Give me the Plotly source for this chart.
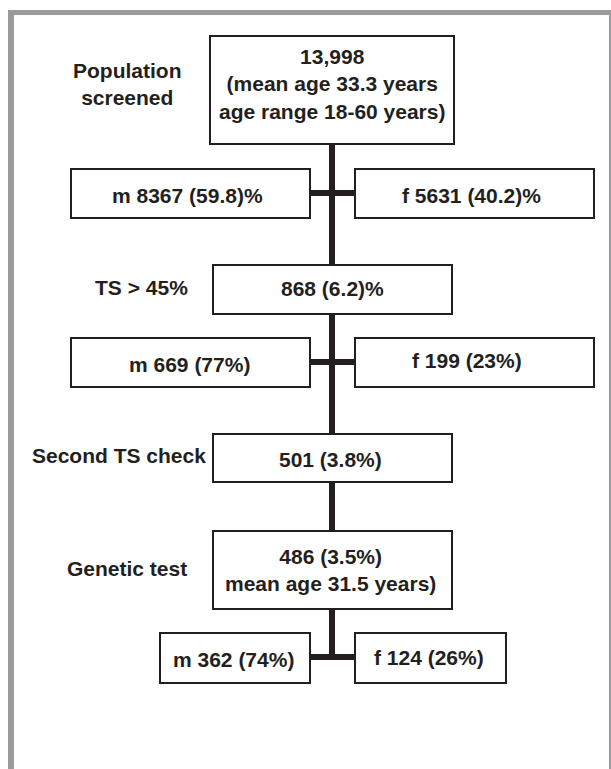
import plotly.graph_objects as go

# ---- data (text of the flow chart) ----
stage_labels = ["Population<br>screened", "TS > 45%", "Second TS check", "Genetic test"]
main_labels = [
    "13,998<br>(mean age 33.3 years<br>age range 18-60 years)",
    "868 (6.2)%",
    "501 (3.8%)",
    "486 (3.5%)<br>mean age 31.5 years)",
]
male_labels = ["m 8367 (59.8)%", "m 669 (77%)", "m 362 (74%)"]
female_labels = ["f 5631 (40.2)%", "f 199 (23%)", "f 124 (26%)"]

# ---- layout geometry (pixels) ----
W, H = 611, 769
main_boxes = [(210, 36, 454, 144), (213, 265, 452, 314), (213, 434, 452, 482), (213, 531, 452, 609)]
main_text_pos = [(332, 84), (332, 288), (330, 459), (330, 570)]
stage_pos = [(127, 84), (141, 287), (119, 455), (127, 568)]
male_boxes = [(71, 169, 310, 218), (71, 338, 310, 387), (160, 633, 310, 683)]
female_boxes = [(355, 169, 594, 218), (355, 338, 594, 387), (355, 633, 506, 683)]
male_text_pos = [(187, 195), (189, 364), (233, 659)]
female_text_pos = [(471, 195), (467, 360), (429, 657)]
connector_y = [193, 362, 657]
spine_x = 332

INK = "#231f20"
GREY = "#9a9b9d"
FONT = dict(family="Liberation Sans, Arial, sans-serif", size=21, color=INK)

shapes = []
# grey frame
shapes.append(dict(type="rect", x0=8, x1=14, y0=10, y1=H, fillcolor=GREY, line_width=0, layer="below"))
shapes.append(dict(type="rect", x0=8, x1=W, y0=10, y1=15, fillcolor=GREY, line_width=0, layer="below"))
shapes.append(dict(type="rect", x0=609, x1=W, y0=10, y1=H, fillcolor=GREY, line_width=0, layer="below"))

# spine
shapes.append(dict(type="line", x0=spine_x, x1=spine_x, y0=main_boxes[0][3], y1=main_boxes[3][1],
                   line=dict(color=INK, width=6)))
shapes.append(dict(type="line", x0=spine_x, x1=spine_x, y0=main_boxes[3][3], y1=connector_y[2] + 3,
                   line=dict(color=INK, width=6)))
# connectors
for (mb, fb, cy) in zip(male_boxes, female_boxes, connector_y):
    shapes.append(dict(type="line", x0=mb[2], x1=fb[0], y0=cy, y1=cy, line=dict(color=INK, width=6)))

# boxes
for b in main_boxes + male_boxes + female_boxes:
    shapes.append(dict(type="rect", x0=b[0], y0=b[1], x1=b[2], y1=b[3],
                       fillcolor="white", line=dict(color=INK, width=2)))

annotations = []
def add_text(txt, pos):
    annotations.append(dict(x=pos[0], y=pos[1], xref="x", yref="y",
                            text="<b>" + txt.replace("<br>", "</b><br><b>") + "</b>",
                            showarrow=False, xanchor="center", yanchor="middle", font=FONT, align="center"))

for t, p in zip(main_labels, main_text_pos):
    add_text(t, p)
for t, p in zip(stage_labels, stage_pos):
    add_text(t, p)
for t, p in zip(male_labels, male_text_pos):
    add_text(t, p)
for t, p in zip(female_labels, female_text_pos):
    add_text(t, p)

fig = go.Figure()
fig.update_layout(
    width=W, height=H,
    margin=dict(l=0, r=0, t=0, b=0),
    paper_bgcolor="white", plot_bgcolor="white",
    xaxis=dict(range=[0, W], visible=False, fixedrange=True),
    yaxis=dict(range=[H, 0], visible=False, fixedrange=True),
    shapes=shapes, annotations=annotations, showlegend=False,
)
fig.write_html("out.html", config={"displayModeBar": False},
               post_script="document.body.style.margin='0';document.body.style.overflow='hidden';")
